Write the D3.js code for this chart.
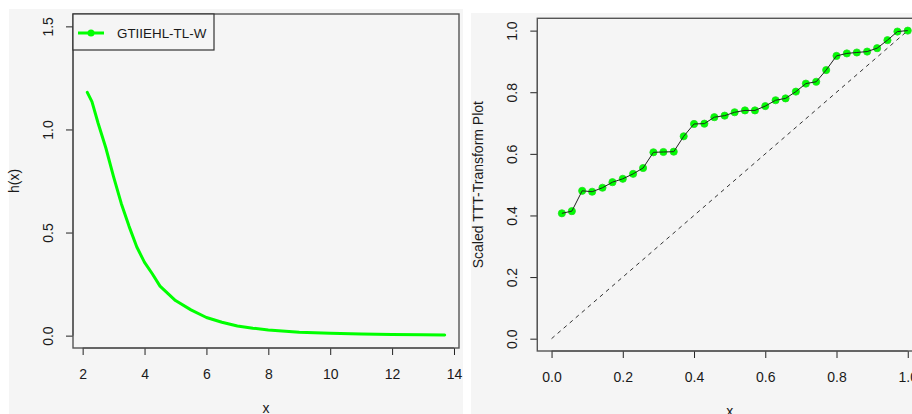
<!DOCTYPE html>
<html>
<head>
<meta charset="utf-8">
<script src="https://cdn.jsdelivr.net/npm/d3@7"></script>
<style>
  html, body { margin: 0; padding: 0; background: #ffffff; }
  svg { display: block; font-family: "Liberation Sans", Arial, sans-serif; }
</style>
</head>
<body>
<svg id="chart" width="912" height="414"></svg>
<script>
// Hazard rate curve h(x)
const hX = [2.15, 2.3, 2.5, 2.75, 3.0, 3.25, 3.5, 3.75, 4.0, 4.25, 4.5, 4.75, 5.0,
            5.5, 6.0, 6.5, 7.0, 7.5, 8.0, 9.0, 10.0, 11.0, 12.0, 13.0, 13.7];
const hY = [1.18, 1.135, 1.03, 0.91, 0.77, 0.64, 0.53, 0.43, 0.355, 0.30, 0.24, 0.205, 0.17,
            0.125, 0.088, 0.065, 0.047, 0.036, 0.027, 0.016, 0.011, 0.008, 0.005, 0.004, 0.003];
const hXTicks = [2, 4, 6, 8, 10, 12, 14];
const hYTicks = [0.0, 0.5, 1.0, 1.5];
const seriesName = "GTIIEHL-TL-W";

// Scaled TTT-transform points
const tttX = [0.029, 0.057, 0.086, 0.114, 0.143, 0.171, 0.2, 0.229, 0.257, 0.286, 0.314, 0.343,
              0.371, 0.4, 0.429, 0.457, 0.486, 0.514, 0.543, 0.571, 0.6, 0.629, 0.657, 0.686,
              0.714, 0.743, 0.771, 0.8, 0.829, 0.857, 0.886, 0.914, 0.943, 0.971, 1.0];
const tttY = [0.407, 0.414, 0.480, 0.477, 0.490, 0.508, 0.519, 0.535, 0.554, 0.605, 0.606, 0.607,
              0.657, 0.697, 0.698, 0.719, 0.724, 0.735, 0.741, 0.741, 0.755, 0.774, 0.780, 0.802,
              0.828, 0.834, 0.872, 0.918, 0.926, 0.929, 0.932, 0.943, 0.969, 0.997, 1.0];
const diagX = [0, 1];
const diagY = [0, 1];
const tttTicks = [0.0, 0.2, 0.4, 0.6, 0.8, 1.0];

const GREEN = "#00ff00";
const TEXT = "#1a1a1a";
const svg = d3.select("#chart");
const fmt = d3.format(".1f");

// R-style 4% range padding
function pad(lo, hi) { const d = (hi - lo) * 0.04; return [lo - d, hi + d]; }

function panel(cfg) {
  // panel background
  svg.append("rect").attr("x", cfg.bg[0]).attr("y", cfg.bg[1])
    .attr("width", cfg.bg[2]).attr("height", cfg.bg[3]).attr("fill", "#f5f5f5");

  const x = d3.scaleLinear().domain(cfg.xDom).range([cfg.L, cfg.R]);
  const y = d3.scaleLinear().domain(cfg.yDom).range([cfg.B, cfg.T]);
  const g = svg.append("g");

  // x axis
  const xa = g.append("g").attr("transform", `translate(0,${cfg.B})`)
    .call(d3.axisBottom(x).tickValues(cfg.xTicks).tickSize(7).tickSizeOuter(0)
      .tickFormat(cfg.xFmt).tickPadding(0));
  xa.select(".domain").remove();
  xa.selectAll(".tick line").attr("stroke", "#222");
  xa.selectAll(".tick text").attr("y", 31).attr("dy", null)
    .attr("font-size", 14).attr("fill", TEXT).attr("font-family", "Liberation Sans, Arial");

  // y axis
  const ya = g.append("g").attr("transform", `translate(${cfg.L},0)`)
    .call(d3.axisLeft(y).tickValues(cfg.yTicks).tickSize(7).tickSizeOuter(0)
      .tickFormat(fmt));
  ya.select(".domain").remove();
  ya.selectAll(".tick line").attr("stroke", "#222");
  ya.selectAll(".tick text")
    .attr("x", null).attr("dy", null)
    .attr("transform", "translate(-20,0) rotate(-90)")
    .attr("text-anchor", "middle")
    .attr("font-size", 14).attr("fill", TEXT).attr("font-family", "Liberation Sans, Arial");

  // axis lines spanning first to last tick
  g.append("line").attr("x1", x(cfg.xTicks[0])).attr("x2", x(cfg.xTicks[cfg.xTicks.length - 1]))
    .attr("y1", cfg.B).attr("y2", cfg.B).attr("stroke", "#222");
  g.append("line").attr("y1", y(cfg.yTicks[0])).attr("y2", y(cfg.yTicks[cfg.yTicks.length - 1]))
    .attr("x1", cfg.L).attr("x2", cfg.L).attr("stroke", "#222");

  // plot box
  g.append("rect").attr("x", cfg.L).attr("y", cfg.T)
    .attr("width", cfg.R - cfg.L).attr("height", cfg.B - cfg.T)
    .attr("fill", "none").attr("stroke", "#555").attr("stroke-width", 1.4);

  // axis titles
  g.append("text").attr("x", (cfg.L + cfg.R) / 2).attr("y", cfg.B + 65)
    .attr("text-anchor", "middle").attr("font-size", 14).attr("fill", TEXT).text("x");
  g.append("text")
    .attr("transform", `translate(${cfg.L - 54},${(cfg.T + cfg.B) / 2}) rotate(-90)`)
    .attr("text-anchor", "middle").attr("font-size", 14).attr("fill", TEXT).text(cfg.yTitle);

  return { x, y, g };
}

// Left panel: hazard rate
const left = panel({
  bg: [9, 9, 454, 405],
  L: 73, R: 459, T: 14, B: 348,
  xDom: pad(d3.min(hX), d3.max(hX)), yDom: pad(0, 1.5),
  xTicks: hXTicks, yTicks: hYTicks, xFmt: d3.format("d"),
  yTitle: "h(x)"
});
left.g.append("path")
  .datum(hX.map((v, i) => [v, hY[i]]))
  .attr("d", d3.line().x(d => left.x(d[0])).y(d => left.y(d[1])))
  .attr("fill", "none").attr("stroke", GREEN).attr("stroke-width", 3)
  .attr("stroke-linejoin", "round").attr("stroke-linecap", "round");

// legend
const lg = left.g.append("g");
lg.append("rect").attr("x", 73).attr("y", 14).attr("width", 141).attr("height", 36)
  .attr("fill", "#f5f5f5").attr("stroke", "#333").attr("stroke-width", 1.2);
lg.append("line").attr("x1", 78).attr("x2", 104).attr("y1", 33).attr("y2", 33)
  .attr("stroke", GREEN).attr("stroke-width", 3);
lg.append("circle").attr("cx", 91).attr("cy", 33).attr("r", 3.5).attr("fill", GREEN);
lg.append("text").attr("x", 117).attr("y", 37.8).attr("font-size", 13.4)
  .attr("fill", TEXT).text(seriesName);

// Right panel: scaled TTT transform
const right = panel({
  bg: [471, 13, 441, 401],
  L: 537.3, R: 922, T: 18.3, B: 351,
  xDom: pad(0, 1), yDom: pad(0, 1),
  xTicks: tttTicks, yTicks: tttTicks, xFmt: fmt,
  yTitle: "Scaled TTT-Transform Plot"
});
right.g.append("path")
  .datum(diagX.map((v, i) => [v, diagY[i]]))
  .attr("d", d3.line().x(d => right.x(d[0])).y(d => right.y(d[1])))
  .attr("fill", "none").attr("stroke", "#333").attr("stroke-width", 1)
  .attr("stroke-dasharray", "4,4");
right.g.selectAll("circle.pt")
  .data(tttX.map((v, i) => [v, tttY[i]]))
  .join("circle").attr("class", "pt")
  .attr("cx", d => right.x(d[0])).attr("cy", d => right.y(d[1]))
  .attr("r", 3.6).attr("fill", GREEN).attr("stroke", "#22dd22").attr("stroke-width", 0.8);
right.g.append("path")
  .datum(tttX.map((v, i) => [v, tttY[i]]))
  .attr("d", d3.line().x(d => right.x(d[0])).y(d => right.y(d[1])))
  .attr("fill", "none").attr("stroke", "#222").attr("stroke-width", 1);
</script>
</body>
</html>
